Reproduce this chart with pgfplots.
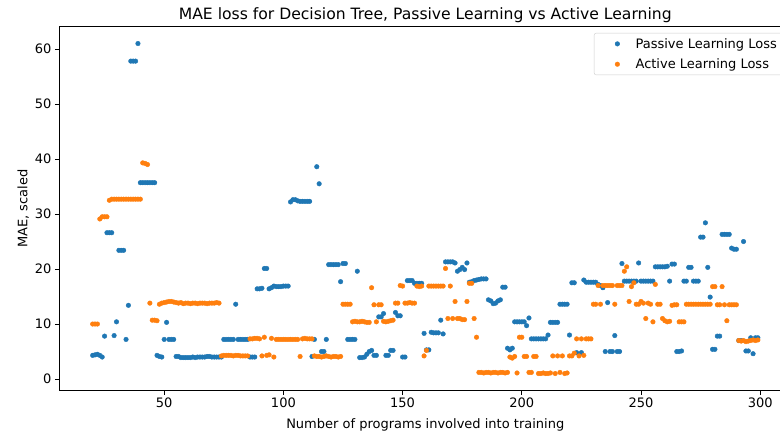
\documentclass[border=0pt]{standalone}
\usepackage{fontspec}
\setmainfont{DejaVu Sans}
\usepackage{pgfplots}
\pgfplotsset{compat=1.18}
\definecolor{mplblue}{HTML}{1F77B4}
\definecolor{mplorange}{HTML}{FF7F0E}
\begin{document}
\begin{tikzpicture}
\useasboundingbox (-59.4bp,-44.7bp) rectangle (720.6bp,390.3bp);
\clip (-59.4bp,-44.7bp) rectangle (720.6bp,390.3bp);
\begin{axis}[
  at={(0,0)}, anchor=south west,
  scale only axis, width=731.7bp, height=363.55bp,
  xmin=6.05, xmax=312.95, ymin=-2.05, ymax=64.05,
  xtick={50,100,150,200,250,300},
  ytick={0,10,20,30,40,50,60},
  /pgf/number format/assume math mode=true,
  font=\fontsize{13bp}{15.6bp}\selectfont,
  tick align=outside, tick pos=left,
  major tick length=4.5bp,
  every tick/.style={black, line width=1.0bp},
  axis line style={line width=1.0bp},
  title={MAE loss for Decision Tree, Passive Learning vs Active Learning},
  title style={font=\fontsize{15.6bp}{18bp}\selectfont, at={(axis description cs:0.5,1)}, anchor=base, yshift=1bp},
  xlabel={Number of programs involved into training},
  xlabel style={yshift=-4bp},
  ylabel={MAE, scaled},
  ylabel style={yshift=-1bp},
  legend style={at={(rel axis cs:0.7306,0.9828)}, anchor=north west, draw=black!20, rounded corners=2bp,
    font=\fontsize{13bp}{15.6bp}\selectfont, row sep=5bp, column sep=4bp, inner xsep=11bp, inner ysep=3bp},
  legend cell align=left,
  legend image code/.code={\path (0bp,0bp) (24bp,0bp); \draw[mark repeat=2,mark phase=2,#1] plot coordinates {(0bp,0bp)(12bp,0bp)(24bp,0bp)};},
]
\addplot[only marks, mark=*, mark size=2.3bp, color=mplblue] table {
x y
20 4.3
21 4.4
22 4.5
23 4.3
24 4.0
25 7.8
26 26.6
27 26.6
28 26.6
29 7.9
30 10.4
31 23.4
32 23.4
33 23.4
34 7.2
35 13.4
36 57.8
37 57.8
38 57.8
39 61.0
40 35.7
41 35.7
42 35.7
43 35.7
44 35.7
45 35.7
46 35.7
47 4.3
48 4.1
49 4.0
50 7.2
51 10.3
52 7.2
53 7.2
54 7.2
55 4.1
56 4.1
57 3.9
58 3.9
59 3.9
60 3.9
61 3.9
62 4.0
63 3.9
64 4.0
65 4.0
66 4.0
67 4.0
68 4.1
69 4.1
70 4.0
71 4.0
72 4.0
73 4.0
74 4.0
75 7.2
76 7.2
77 7.2
78 7.2
79 7.2
80 13.6
81 7.2
82 7.2
83 7.2
84 7.2
85 7.2
86 4.0
87 4.0
88 4.0
89 16.4
90 16.4
91 16.5
92 20.1
93 20.1
94 16.4
95 16.6
96 16.9
97 16.8
98 16.8
99 16.8
100 16.9
101 16.9
102 16.9
103 32.2
104 32.6
105 32.6
106 32.4
107 32.3
108 32.3
109 32.3
110 32.3
111 32.3
112 4.1
113 7.2
114 38.6
115 35.5
116 5.0
117 5.0
118 7.2
119 20.8
120 20.8
121 20.8
122 20.8
123 20.8
124 17.7
125 21.0
126 21.0
127 7.2
128 7.2
129 7.2
130 7.2
131 19.6
132 3.9
133 3.9
134 4.0
135 4.5
136 5.0
137 5.2
138 4.3
139 4.3
140 11.3
141 11.3
142 11.9
143 4.3
144 4.3
145 5.2
146 5.2
147 12.1
148 11.5
149 11.5
150 4.0
151 4.0
152 17.9
153 17.9
154 17.9
155 17.4
156 17.4
157 17.4
158 17.4
159 8.3
160 5.3
161 5.3
162 8.5
163 8.4
164 8.4
165 8.4
166 10.7
167 8.2
168 21.3
169 21.3
170 21.3
171 21.3
172 21.1
173 19.6
174 19.9
175 20.3
176 19.9
177 21.1
178 17.6
179 17.7
180 17.9
181 18.0
182 18.1
183 18.2
184 18.2
185 18.2
186 14.4
187 14.2
188 13.7
189 13.8
190 14.2
191 14.4
192 16.7
193 16.7
194 5.6
195 5.3
196 5.6
197 10.4
198 10.4
199 10.4
200 10.4
201 10.4
202 9.7
203 11.1
204 7.3
205 7.3
206 7.3
207 7.3
208 7.3
209 7.3
210 7.3
211 8.0
212 10.3
213 10.3
214 10.3
215 10.3
216 13.6
217 13.6
218 13.6
219 13.6
220 8.0
221 17.5
222 17.5
223 4.8
224 4.5
225 4.8
226 18.0
227 17.6
228 17.6
229 17.6
230 17.6
231 17.6
232 17.2
233 17.0
234 16.6
235 5.0
236 13.9
237 5.0
238 5.0
239 7.9
240 5.0
241 5.0
242 21.0
243 17.8
244 17.8
245 17.8
246 17.8
247 17.8
248 17.8
249 21.1
250 17.8
251 17.8
252 17.8
253 17.8
254 17.8
255 17.8
256 20.4
257 20.4
258 20.4
259 20.4
260 20.4
261 20.5
262 17.8
263 20.9
264 20.9
265 5.0
266 5.0
267 5.1
268 17.8
269 17.8
270 20.3
271 20.3
272 17.8
273 17.8
274 17.8
275 25.8
276 25.8
277 28.4
278 20.3
279 14.9
280 5.4
281 5.4
282 7.8
283 7.8
284 26.3
285 26.3
286 26.3
287 26.3
288 23.8
289 23.6
290 23.6
291 7.0
292 7.0
293 25.0
294 5.1
295 5.1
296 7.5
297 4.6
298 7.5
299 7.5
};
\addlegendentry{Passive Learning Loss}
\addplot[only marks, mark=*, mark size=2.3bp, color=mplorange] table {
x y
20 10.0
21 10.0
22 10.0
23 29.1
24 29.5
25 29.5
26 29.5
27 32.5
28 32.7
29 32.7
30 32.7
31 32.7
32 32.7
33 32.7
34 32.7
35 32.7
36 32.7
37 32.7
38 32.7
39 32.7
40 32.7
41 39.3
42 39.2
43 39.0
44 13.8
45 10.7
46 10.7
47 10.6
48 13.6
49 13.8
50 13.9
51 14.0
52 14.1
53 14.1
54 14.0
55 13.9
56 13.8
57 13.9
58 13.7
59 13.8
60 13.8
61 13.7
62 13.8
63 13.8
64 13.7
65 13.8
66 13.8
67 13.8
68 13.7
69 13.8
70 13.8
71 13.8
72 13.9
73 13.8
74 4.2
75 4.3
76 4.3
77 4.3
78 4.3
79 4.2
80 4.3
81 4.3
82 4.2
83 4.2
84 4.2
85 4.2
86 7.3
87 7.3
88 7.4
89 7.4
90 7.3
91 4.2
92 7.6
93 4.3
94 4.4
95 7.4
96 4.0
97 7.2
98 7.2
99 7.2
100 7.2
101 7.2
102 7.2
103 7.2
104 7.2
105 7.2
106 7.2
107 4.1
108 7.3
109 7.4
110 7.3
111 7.3
112 7.3
113 4.2
114 4.1
115 4.1
116 4.0
117 4.1
118 4.2
119 4.1
120 4.0
121 4.1
122 4.1
123 4.0
124 4.1
125 13.6
126 13.6
127 13.6
128 13.6
129 10.4
130 10.5
131 10.4
132 10.4
133 10.5
134 10.4
135 10.3
136 10.3
137 16.6
138 13.5
139 10.4
140 13.5
141 13.5
142 10.5
143 10.4
144 10.5
145 10.6
146 10.7
147 13.8
148 13.8
149 17.0
150 16.9
151 13.8
152 13.8
153 13.9
154 13.8
155 13.8
156 16.9
157 16.8
158 16.9
159 4.2
160 5.2
161 16.9
162 16.9
163 16.9
164 16.9
165 16.9
166 16.9
167 16.9
168 20.1
169 11.0
170 16.9
171 11.0
172 14.1
173 11.0
174 11.0
175 10.8
176 10.8
177 14.1
178 17.4
179 17.4
180 11.0
181 7.6
182 1.2
183 1.2
184 1.1
185 1.2
186 1.2
187 1.1
188 1.2
189 1.2
190 1.1
191 1.2
192 1.2
193 1.1
194 1.2
195 4.0
196 3.8
197 4.1
198 1.1
199 7.6
200 7.6
201 4.1
202 4.1
203 1.2
204 1.2
205 4.1
206 4.1
207 1.0
208 1.0
209 1.1
210 1.0
211 1.0
212 1.1
213 4.2
214 1.0
215 4.2
216 1.2
217 4.2
218 1.0
219 1.1
220 4.2
221 4.2
222 4.7
223 7.3
224 4.2
225 7.3
226 4.3
227 7.3
228 7.3
229 7.3
230 13.6
231 13.6
232 17.0
233 13.6
234 17.0
235 17.0
236 17.0
237 17.0
238 17.0
239 13.6
240 17.0
241 17.0
242 17.0
243 19.6
244 20.4
245 14.1
246 16.8
247 17.5
248 13.6
249 13.6
250 14.1
251 13.8
252 11.0
253 13.8
254 13.6
255 10.4
256 17.2
257 13.6
258 13.6
259 11.0
260 10.6
261 10.4
262 10.5
263 13.4
264 13.5
265 13.5
266 10.4
267 10.4
268 10.4
269 13.6
270 13.6
271 13.6
272 13.6
273 13.6
274 13.6
275 13.6
276 13.6
277 13.6
278 13.6
279 13.6
280 16.8
281 16.8
282 13.5
283 13.5
284 16.8
285 13.5
286 10.6
287 13.5
288 13.5
289 13.5
290 13.5
291 7.0
292 6.9
293 7.0
294 6.8
295 6.9
296 7.0
297 7.1
298 7.0
299 7.1
};
\addlegendentry{Active Learning Loss}
\end{axis}
\end{tikzpicture}
\end{document}
